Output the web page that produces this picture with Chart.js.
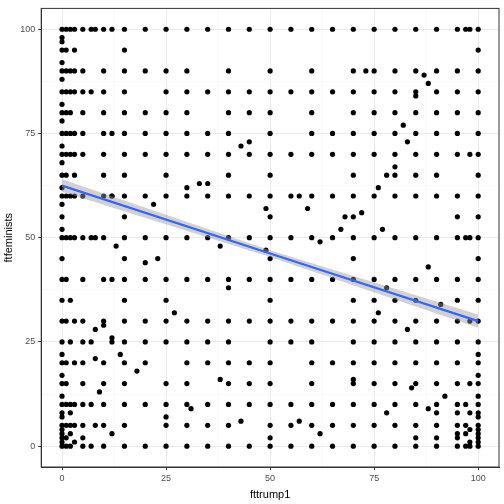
<!DOCTYPE html>
<html><head><meta charset="utf-8">
<script src="https://cdn.jsdelivr.net/npm/chart.js@4/dist/chart.umd.min.js"></script>
<style>html,body{margin:0;background:#fff}#wrap{width:504px;height:504px}</style>
</head><body><div id="wrap"><canvas id="grafico"></canvas></div>
<script>
// ftfeminists values seen in each fttrump1 column
const columnas = {
  0: [0,1,2,3,4,5,7,8,10,12,15,17,20,22,25,30,35,40,45,50,52,55,58,60,62,65,68,70,72,75,78,80,82,85,88,90,92,95,97,98,100],
  1: [0,2,5,10,15,20,30,40,50,60,65,70,75,80,85,90,95,100],
  2: [0,3,5,8,10,25,35,50,60,70,75,80,85,90,100],
  3: [1,5,10,20,30,50,60,65,70,75,85,90,95,100],
  5: [0,2,5,10,15,20,25,30,40,50,60,70,75,80,85,90,100],
  7: [0,10,50,85,100],
  8: [5,28,50,100],
  10: [0,5,10,15,20,30,40,50,60,65,70,75,80,85,90,100],
  12: [3,25,40,60,100],
  15: [0,5,10,15,20,25,30,35,40,45,50,55,60,65,70,75,80,85,90,95,100],
  20: [0,10,20,25,30,40,50,60,70,75,80,90,100],
  25: [0,5,10,15,25,30,35,40,50,60,65,70,75,80,85,90,100],
  30: [0,5,10,15,20,25,30,40,50,60,70,75,80,85,90,100],
  35: [0,5,10,20,25,30,40,50,60,70,75,85,100],
  40: [0,5,10,15,20,25,30,40,50,60,65,70,75,80,85,90,100],
  45: [0,10,15,20,30,40,50,60,70,80,85,100],
  50: [0,2,5,10,15,20,25,30,35,40,45,50,55,60,65,70,75,80,85,90,100],
  55: [0,5,10,25,30,40,50,60,70,85,100],
  60: [0,5,10,15,20,25,30,40,50,60,70,75,80,85,90,100],
  65: [0,5,10,20,30,40,50,60,70,75,85,100],
  70: [0,5,10,15,20,25,30,35,40,45,50,55,60,65,70,75,80,85,90,100],
  75: [0,5,10,15,20,25,30,35,40,50,60,70,75,80,85,90,100],
  80: [0,5,10,15,20,25,30,40,50,60,65,70,75,80,85,90,100],
  85: [0,2,5,10,15,20,25,30,35,40,50,60,65,70,75,80,85,90,100],
  90: [0,2,5,8,10,15,20,25,30,40,50,60,65,70,75,80,85,90,100],
  95: [0,2,3,5,8,10,15,20,25,30,35,40,50,55,60,70,75,80,85,90,100],
  97: [0,3,5,10,50,100],
  98: [0,1,4,8,15,30,50,70,100],
  100: [0,1,2,3,4,5,7,8,10,12,15,17,20,22,25,30,35,40,45,50,55,60,65,70,75,80,85,90,95,100]
};
const sueltos = [[40,38],[38,48],[43,72],[45,73],[49,57],[67,52],[68,55],[72,56],[77,52],[62,49],[35,63],[33,63],[30,62],[22,58],[27,32],[23,45],[20,44],[13,48],[14,22],[12,26],[10,29],[8,21],[7,25],[9,13],[18,18],[25,7],[31,9],[38,16],[43,6],[57,6],[62,3],[70,16],[78,8],[84,14],[88,9],[92,12],[88,87],[87,89],[85,84],[82,77],[83,73],[80,67],[78,65],[76,62],[91,34],[78,38],[80,35],[88,43],[83,28],[76,32],[12,60],[12,75],[73,90],[57,60],[59,57],[49,47]];
const ajusteX = [0, 50, 100];
const ajusteY = [62.5, 46.2, 30];
const bandaLo = [61.0, 45.4, 28.4];
const bandaHi = [64.0, 47.0, 31.6];
const ticks = [0, 12.5, 25, 37.5, 50, 62.5, 75, 87.5, 100];

const puntos = [];
Object.keys(columnas).forEach(x => columnas[x].forEach(y => puntos.push({x: +x, y})));
sueltos.forEach(([x, y]) => puntos.push({x, y}));
const linea = arr => ajusteX.map((x, i) => ({x, y: arr[i]}));
const esMayor = v => v % 25 === 0;

const marco = {
  id: 'marco',
  afterDraw(chart) {
    const {ctx, chartArea: a} = chart;
    ctx.save(); ctx.strokeStyle = '#333'; ctx.lineWidth = 1;
    ctx.strokeRect(a.left, a.top, a.right - a.left, a.bottom - a.top);
    ctx.restore();
  }
};

const eje = titulo => ({
  type: 'linear', min: -5, max: 105,
  afterBuildTicks: a => a.ticks = ticks.map(v => ({value: v})),
  grid: {
    color: c => esMayor(c.tick.value) ? '#ebebeb' : '#f5f5f5',
    lineWidth: c => esMayor(c.tick.value) ? 1 : 0.6,
    tickColor: c => esMayor(c.tick.value) ? '#333' : 'rgba(0,0,0,0)', tickLength: 3
  },
  border: {color: '#333'},
  ticks: {color: '#4d4d4d', font: {family: 'Liberation Sans', size: 9},
    callback: v => esMayor(v) ? v : ''},
  title: {display: true, text: titulo, color: '#000', font: {family: 'Liberation Sans', size: 11}, padding: 2}
});

new Chart(document.getElementById('grafico'), {
  data: {
    datasets: [
      {type: 'scatter', data: puntos, backgroundColor: '#000', borderWidth: 0, pointRadius: 2.6, order: 3},
      {type: 'line', data: linea(bandaLo), borderWidth: 0, pointRadius: 0, fill: false, order: 2},
      {type: 'line', data: linea(bandaHi), borderWidth: 0, pointRadius: 0, fill: '-1', backgroundColor: 'rgba(153,153,153,0.45)', order: 2},
      {type: 'line', data: linea(ajusteY), borderColor: '#3366FF', borderWidth: 2.2, pointRadius: 0, order: 1}
    ]
  },
  options: {
    responsive: true, maintainAspectRatio: false, animation: false,
    layout: {padding: {top: 4, right: 5}},
    plugins: {legend: {display: false}, tooltip: {enabled: false}},
    scales: {x: eje('fttrump1'), y: eje('ftfeminists')}
  },
  plugins: [marco]
});
</script></body></html>
